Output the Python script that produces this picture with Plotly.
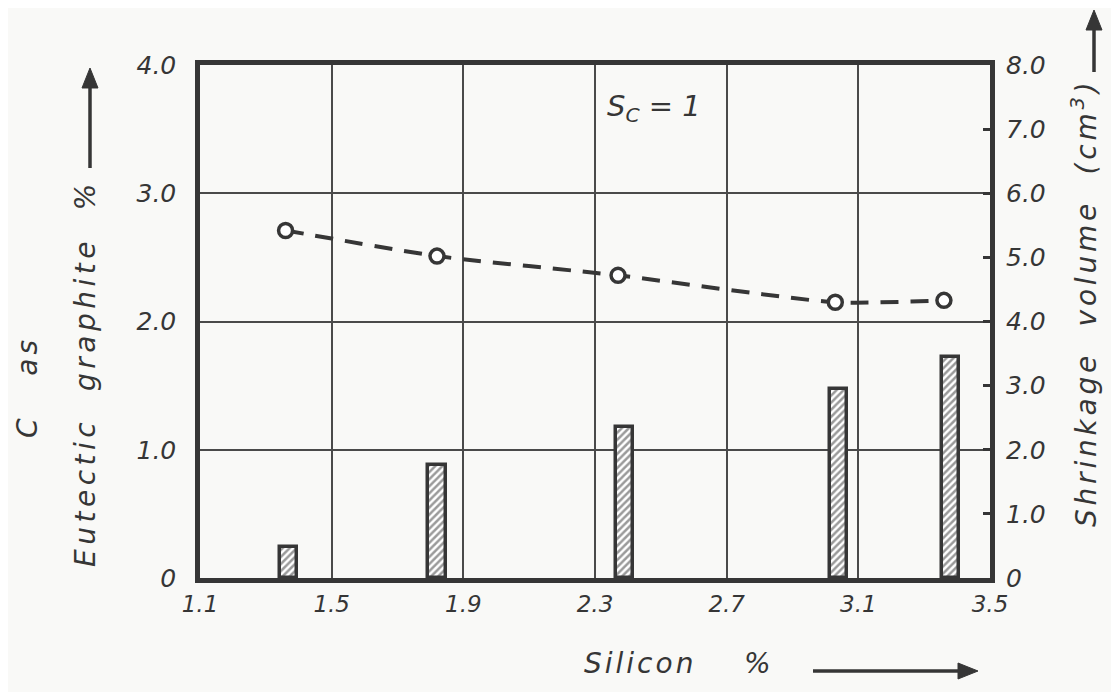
import plotly.graph_objects as go

# Data
silicon_bars = [1.37, 1.82, 2.39, 3.04, 3.38]
graphite_pct = [0.24, 0.88, 1.18, 1.47, 1.72]

silicon_line = [1.36, 1.82, 2.37, 3.03, 3.36]
shrinkage_cm3 = [5.42, 5.02, 4.72, 4.30, 4.33]

x_ticks = [1.1, 1.5, 1.9, 2.3, 2.7, 3.1, 3.5]
x_ticktext = ["1.1", "1.5", "1.9", "2.3", "2.7", "3.1", "3.5"]
y1_ticks = [0, 1, 2, 3, 4]
y1_ticktext = ["0", "1.0", "2.0", "3.0", "4.0"]
y2_ticks = [0, 1, 2, 3, 4, 5, 6, 7, 8]
y2_ticktext = ["0", "1.0", "2.0", "3.0", "4.0", "5.0", "6.0", "7.0", "8.0"]

INK = "#363636"
BG = "#f9f9f7"
FONT = "DejaVu Sans"

# page is placed with an 8px body margin
OFF = 8
PL, PR, PT, PB = 200, 990, 65, 578  # target plot-area edges in window pixels

fig = go.Figure()

fig.add_trace(go.Bar(
    x=silicon_bars, y=graphite_pct, width=0.052,
    marker=dict(color="white",
                line=dict(color=INK, width=3.5),
                pattern=dict(shape="/", fgcolor=INK, bgcolor="white", size=5, solidity=0.5)),
    yaxis="y", showlegend=False,
))

fig.add_trace(go.Scatter(
    x=silicon_line, y=shrinkage_cm3, mode="lines+markers",
    line=dict(color=INK, width=4, dash="18px,12px", shape="spline", smoothing=0.6),
    marker=dict(symbol="circle", size=14, color="white", line=dict(color=INK, width=3.5)),
    yaxis="y2", showlegend=False,
))

tickfont = dict(family=FONT, size=25, color=INK, style="italic")

W, H = 1119 - OFF, 692 - OFF
fig.update_layout(
    width=W, height=H,
    margin=dict(l=PL - OFF, r=W - (PR - OFF), t=PT - OFF, b=H - (PB - OFF)),
    paper_bgcolor=BG, plot_bgcolor=BG,
    xaxis=dict(range=[1.1, 3.5], tickvals=x_ticks, ticktext=x_ticktext,
               showgrid=True, gridcolor="#4a4a4a", gridwidth=2,
               showline=True, linecolor=INK, linewidth=4.5, mirror=True,
               ticks="", tickfont=dict(family=FONT, size=23, color=INK, style="italic"),
               ticklabelstandoff=2, zeroline=False),
    yaxis=dict(range=[0, 4], tickvals=y1_ticks, ticktext=y1_ticktext,
               showgrid=True, gridcolor="#4a4a4a", gridwidth=2,
               showline=True, linecolor=INK, linewidth=4.5, mirror=True,
               ticks="", tickfont=tickfont, ticklabelstandoff=14, zeroline=False),
    yaxis2=dict(range=[0, 8], tickvals=y2_ticks, ticktext=y2_ticktext,
                overlaying="y", side="right", showgrid=False,
                ticks="inside", ticklen=7, tickwidth=3, tickcolor=INK,
                tickfont=tickfont, ticklabelstandoff=15, zeroline=False),
    bargap=0,
)

def px_x(px):
    return (px - PL) / (PR - PL)

def px_y(py):
    return (PB - py) / (PB - PT)

title_font = dict(family=FONT, size=28, color=INK, style="italic")

def spaced(s, ls=4):
    return '<span style="letter-spacing:%.1fpx">%s</span>' % (ls, s)

def label(text, px, py, angle=0, font=title_font):
    return dict(text=text, x=px_x(px), y=px_y(py), xref="paper", yref="paper",
                xanchor="center", yanchor="middle", textangle=angle,
                showarrow=False, font=font)

annotations = [
    label("S<sub>C</sub> = 1", 654, 108, font=dict(family=FONT, size=29, color=INK, style="italic")),
    label(spaced("Eutectic&#160;&#160;graphite&#160;&#160;%", 4.5), 85, 373, -90),
    label(spaced("C&#160;&#160;&#160;as"), 27, 387, -90),
    label(spaced("Shrinkage&#160;&#160;volume&#160;&#160;(cm<sup>3</sup>)", 3.8), 1084, 303, -90),
    label(spaced("Silicon&#160;&#160;&#160;&#160;%", 3), 679, 663),
]
fig.update_layout(annotations=annotations)

# arrows drawn as shapes: (head_x, head_y, tail_x, tail_y) in window pixels
def add_arrow(hx, hy, tx, ty, head_len=20, head_half=8):
    import math
    dx, dy = hx - tx, hy - ty
    L = math.hypot(dx, dy)
    ux, uy = dx / L, dy / L
    bx, by = hx - ux * head_len, hy - uy * head_len
    nx, ny = -uy, ux
    fig.add_shape(type="line", xref="paper", yref="paper",
                  x0=px_x(tx), y0=px_y(ty), x1=px_x(bx + ux * 2), y1=px_y(by + uy * 2),
                  line=dict(color=INK, width=3.5))
    p1 = (bx + nx * head_half, by + ny * head_half)
    p2 = (bx - nx * head_half, by - ny * head_half)
    path = "M %f %f L %f %f L %f %f Z" % (px_x(hx), px_y(hy), px_x(p1[0]), px_y(p1[1]),
                                          px_x(p2[0]), px_y(p2[1]))
    fig.add_shape(type="path", xref="paper", yref="paper", path=path,
                  fillcolor=INK, line=dict(color=INK, width=1))

add_arrow(90, 68, 90, 168)
add_arrow(1094, 10, 1094, 72)
add_arrow(978, 671, 813, 671)

fig.write_html("out.html")
